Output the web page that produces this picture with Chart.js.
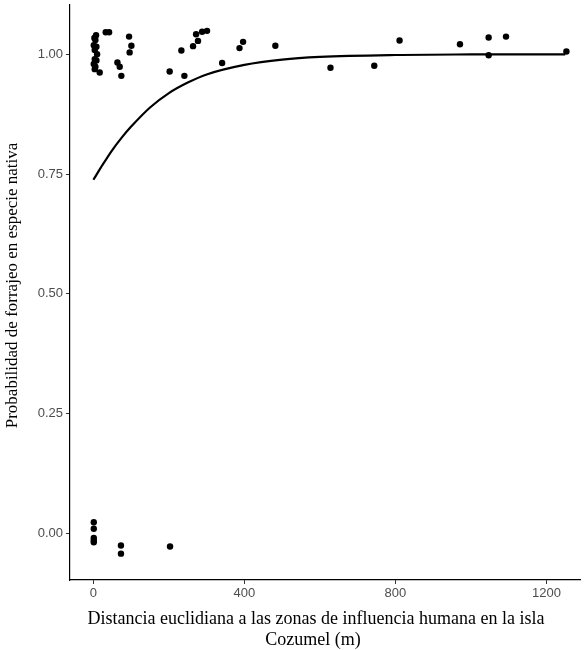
<!DOCTYPE html>
<html>
<head>
<meta charset="utf-8">
<script src="https://cdn.jsdelivr.net/npm/chart.js@4.4.1/dist/chart.umd.min.js"></script>
<style>
  html, body { margin: 0; padding: 0; background: #fff; }
  #wrap { width: 585px; height: 650px; }
</style>
</head>
<body>
<div id="wrap"><canvas id="c" width="585" height="650"></canvas></div>
<script>
// Observed points (distance in m, jittered response)
const pointX = [7, 5.3, 1, 8, 3.5, 9.8, 3.5, 8, 1, 3.5, 16.7, 2.6, 5.3,
  32.6, 41.6, 94.5, 100.6, 96, 63.6, 69.7, 74,
  202, 241, 233, 264, 277, 272, 288, 301, 341, 387, 396.5, 482,
  628, 744, 811, 971, 1047, 1093, 1047, 1253,
  1, 1, 1, 1, 1, 73, 73, 203];
const pointY = [1.040, 1.030, 1.019, 1.016, 1.009, 1.000, 0.990, 0.987, 0.980, 0.969, 0.962, 1.034, 0.974,
  1.046, 1.046, 1.037, 1.018, 1.004, 0.983, 0.974, 0.955,
  0.964, 0.955, 1.008, 1.017, 1.028, 1.042, 1.047, 1.049, 0.982, 1.013, 1.026, 1.018,
  0.972, 0.976, 1.029, 1.021, 1.035, 1.037, 0.998, 1.006,
  0.0225, 0.009, -0.010, -0.015, -0.019, -0.026, -0.043, -0.028];

// Fitted curve
const curveX = [0, 25, 50, 75, 100, 150, 200, 250, 300, 400, 500, 600, 800, 1000, 1250];
const curveY = [0.738, 0.770, 0.800, 0.826, 0.849, 0.889, 0.919, 0.941, 0.958, 0.978, 0.989, 0.9945, 0.9986, 0.9997, 1.0];

const xTicks = [0, 400, 800, 1200];
const yTicks = [0, 0.25, 0.5, 0.75, 1];

const xTitle = ["Distancia euclidiana a las zonas de influencia humana en la isla", "Cozumel (m)"];
const yTitle = "Probabilidad de forrajeo en especie nativa";

const pts = pointX.map((x, i) => ({ x: x, y: pointY[i] }));
const curve = curveX.map((x, i) => ({ x: x, y: curveY[i] }));

const titlesPlugin = {
  id: 'titlesPlugin',
  afterDraw(chart) {
    const ctx = chart.ctx;
    const a = chart.chartArea;
    ctx.save();
    ctx.fillStyle = '#000';
    ctx.font = '18px "Liberation Serif"';
    ctx.textAlign = 'center';
    ctx.textBaseline = 'alphabetic';
    const cx = (a.left + a.right) / 2 - 9;
    xTitle.forEach((line, i) => ctx.fillText(line, cx - i * 3, a.bottom + 44 + i * 21));
    ctx.font = '17px "Liberation Serif"';
    ctx.textBaseline = 'middle';
    ctx.translate(13, (a.top + a.bottom) / 2 - 7);
    ctx.rotate(-Math.PI / 2);
    ctx.fillText(yTitle, 0, 0);
    ctx.restore();
  }
};

new Chart(document.getElementById('c'), {
  type: 'scatter',
  data: {
    datasets: [
      {
        type: 'line',
        data: curve,
        borderColor: '#000',
        borderWidth: 2.2,
        pointRadius: 0,
        tension: 0.4,
        cubicInterpolationMode: 'monotone',
        fill: false,
        order: 2
      },
      {
        type: 'scatter',
        data: pts,
        backgroundColor: '#000',
        borderColor: '#000',
        borderWidth: 0,
        pointRadius: 3.2,
        order: 1
      }
    ]
  },
  plugins: [titlesPlugin],
  options: {
    responsive: false,
    animation: false,
    devicePixelRatio: 1,
    layout: { autoPadding: false, padding: { left: 0, right: 5, top: 5, bottom: 0 } },
    plugins: { legend: { display: false }, tooltip: { enabled: false } },
    scales: {
      x: {
        type: 'linear',
        min: -62,
        max: 1289,
        afterBuildTicks: (s) => { s.ticks = xTicks.map(v => ({ value: v })); },
        afterFit: (s) => { s.height = 70; s.paddingLeft = 0; s.paddingRight = 0; },
        grid: { drawOnChartArea: false, drawTicks: true, tickLength: 4, tickColor: '#333', tickWidth: 1 },
        border: { display: true, color: '#000', width: 1.2 },
        ticks: { color: '#4D4D4D', font: { family: 'Liberation Sans', size: 13 }, padding: 2, maxRotation: 0,
          callback: (v) => String(v) },
        title: { display: false }
      },
      y: {
        type: 'linear',
        min: -0.098,
        max: 1.103,
        afterBuildTicks: (s) => { s.ticks = yTicks.map(v => ({ value: v })); },
        afterFit: (s) => { s.width = 70; s.paddingTop = 0; s.paddingBottom = 0; },
        grid: { drawOnChartArea: false, drawTicks: true, tickLength: 4, tickColor: '#333', tickWidth: 1 },
        border: { display: true, color: '#000', width: 1.2 },
        ticks: {
          color: '#4D4D4D', font: { family: 'Liberation Sans', size: 13 }, padding: 3,
          callback: (v) => Number(v).toFixed(2)
        },
        title: { display: false }
      }
    }
  }
});
</script>
</body>
</html>
